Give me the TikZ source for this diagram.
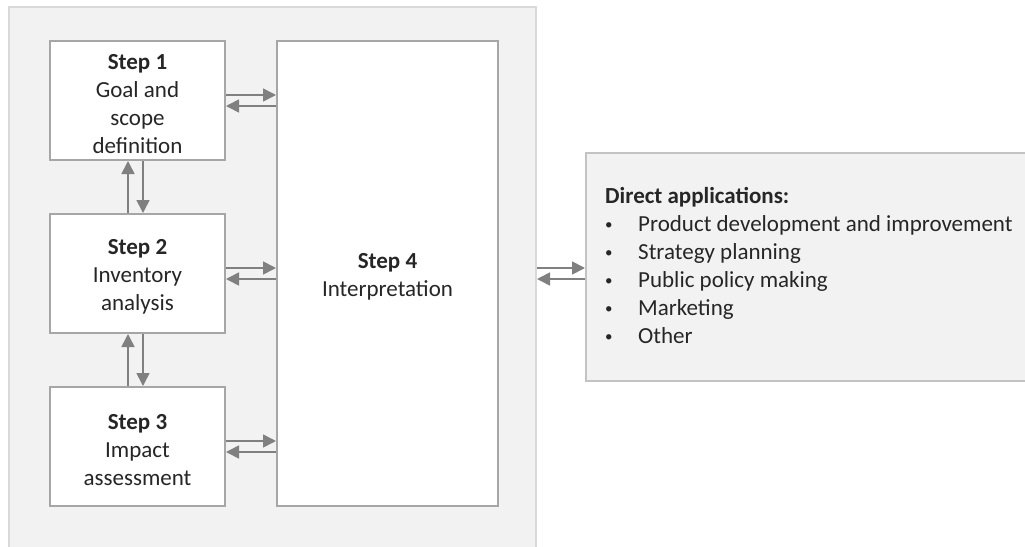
\documentclass[tikz,border=0pt]{standalone}
\usepackage{fontspec}
\setmainfont{Carlito}
\usetikzlibrary{arrows.meta,calc}
\definecolor{framefill}{HTML}{F2F2F2}
\definecolor{frameline}{HTML}{D9D9D9}
\definecolor{boxline}{HTML}{A6A6A6}
\definecolor{arrowgray}{HTML}{808080}
\definecolor{txt}{HTML}{262626}
% strut that pushes a centred text block slightly downward
\newcommand{\topstrut}{\rule{0pt}{22pt}}
\newcommand{\smallbullet}{\raisebox{1.5pt}{\fontsize{15}{15}\selectfont\textbullet}}
\begin{document}
\begin{tikzpicture}[x=1pt,y=-1pt,
  font=\fontsize{23}{28}\selectfont, text=txt,
  stepbox/.style={draw=boxline, line width=2pt, fill=white, inner sep=0pt,
    anchor=north west, align=center, minimum width=175pt, minimum height=119pt},
  panel/.style={draw=frameline, fill=framefill, line width=2pt, inner sep=0pt,
    anchor=north west},
  conn/.style={draw=arrowgray, line width=1.6pt,
    -{Triangle[length=13pt,width=13pt]}},
  label/.style={anchor=base west, inner sep=0pt}]
\useasboundingbox (0,0) rectangle (1025,546);

% grey frame holding the four steps
\node[panel, minimum width=527pt, minimum height=560pt] (frame) at (8,6) {};

% the four steps
\node[stepbox] (s1) at (49,40) {\topstrut\textbf{Step 1}\\Goal and\\scope\\definition};
\node[stepbox] (s2) at (49,213) {\topstrut\textbf{Step 2}\\Inventory\\analysis};
\node[stepbox] (s3) at (49,386) {\topstrut\textbf{Step 3}\\Impact\\assessment};
\node[stepbox, minimum width=221pt, minimum height=465pt] (s4) at (276,40)
  {\topstrut\textbf{Step 4}\\Interpretation};

% applications panel
\node[panel, draw=frameline!90!black, minimum width=460pt, minimum height=228pt] (apps) at (585,152) {};
\node[label, font=\fontsize{23}{28}\selectfont\bfseries] (apptitle) at (605,203) {Direct applications:};
\foreach \t [count=\i] in {Product development and improvement, Strategy planning,
    Public policy making, Marketing, Other} {
  \node[label] (bullet\i) at (605,203+28*\i) {\smallbullet};
  \node[label] (item\i) at (638,203+28*\i) {\t};
}

% steps 1--3 exchange with step 4
\foreach \s in {s1,s2,s3} {
  \draw[conn] ($(\s.east)+(0,-5.5)$) -- ($(\s.east -| s4.west)+(0,-5.5)$);
  \draw[conn] ($(\s.east -| s4.west)+(0,5.5)$) -- ($(\s.east)+(0,5.5)$);
}

% vertical exchanges between consecutive steps
\draw[conn] ($(s2.north)+(-9.5,0)$) -- ($(s1.south)+(-9.5,0)$);
\draw[conn] ($(s1.south)+(5.5,0)$) -- ($(s2.north)+(5.5,0)$);
\draw[conn] ($(s3.north)+(-9.5,0)$) -- ($(s2.south)+(-9.5,0)$);
\draw[conn] ($(s2.south)+(5.5,0)$) -- ($(s3.north)+(5.5,0)$);

% frame exchanges with the applications panel
\draw[conn] ($(s4.east -| frame.east)+(0,-5.5)$) -- ($(s4.east -| apps.west)+(0,-5.5)$);
\draw[conn] ($(s4.east -| apps.west)+(0,5.5)$) -- ($(s4.east -| frame.east)+(0,5.5)$);
\end{tikzpicture}
\end{document}
